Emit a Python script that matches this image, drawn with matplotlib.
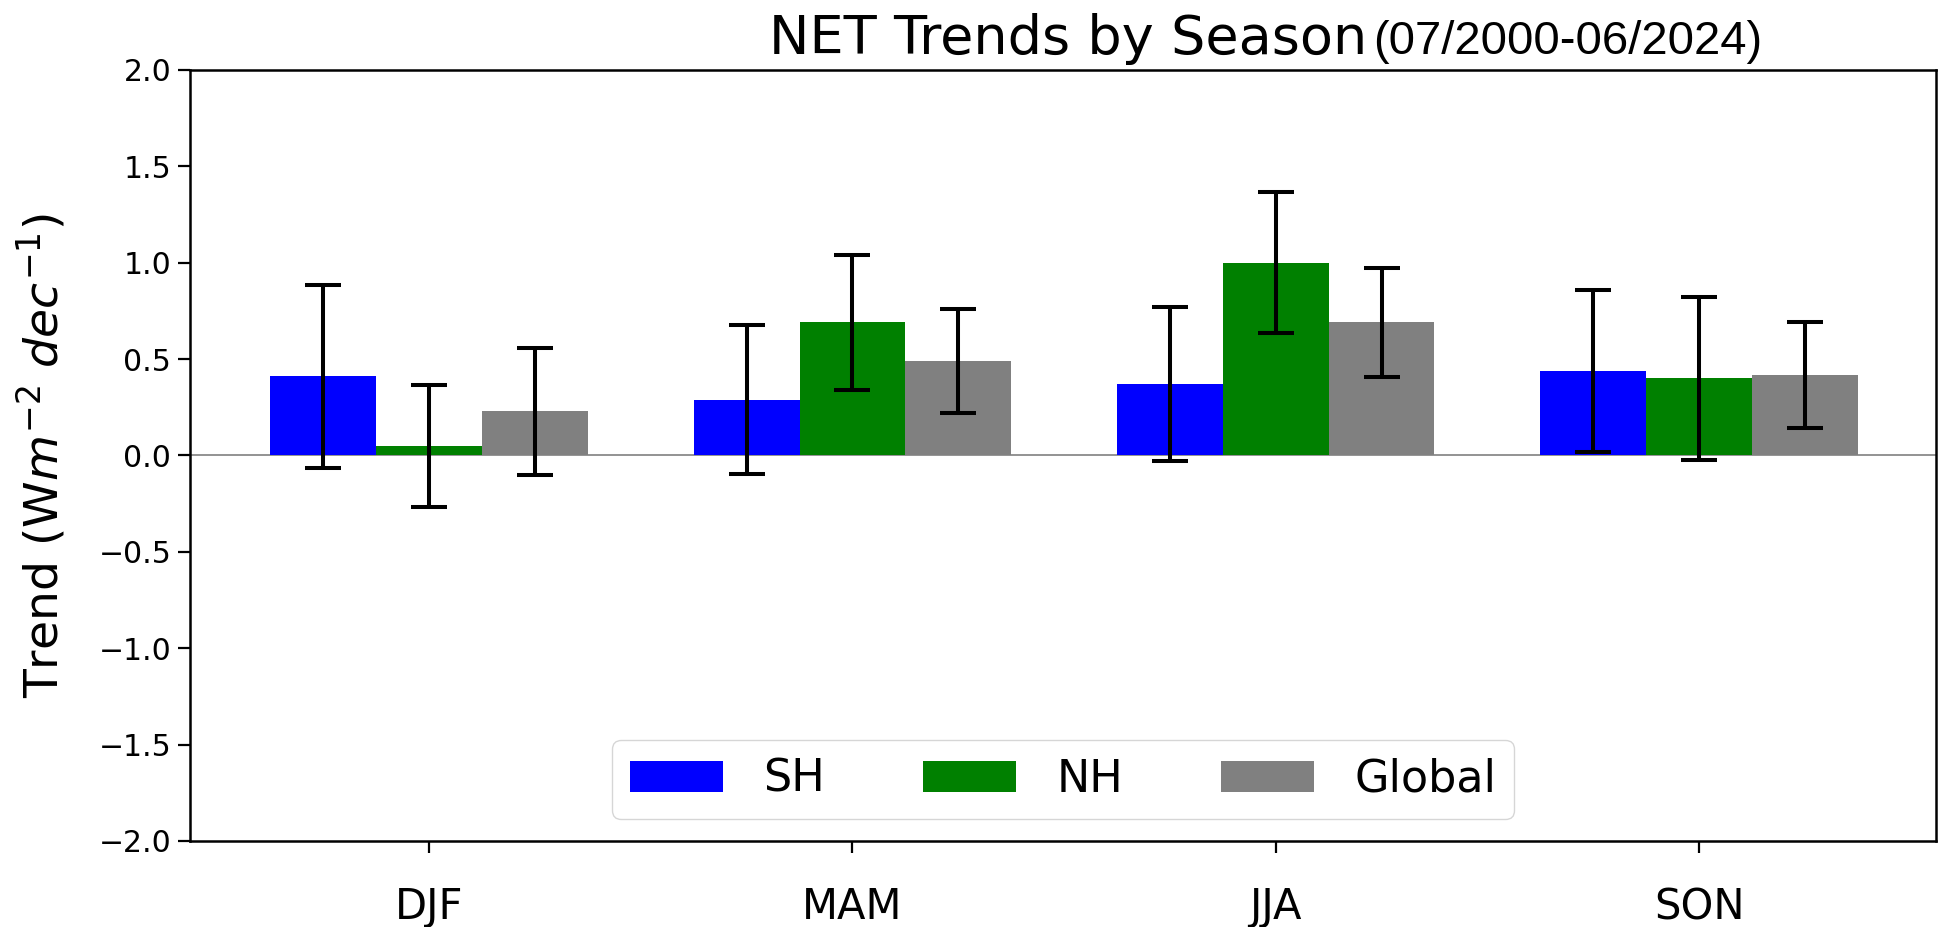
import matplotlib
matplotlib.use("Agg")
import matplotlib.pyplot as plt
import numpy as np

# seasonal NET trends and their uncertainty (W m-2 per decade)
seasons = ["DJF", "MAM", "JJA", "SON"]
sh = [0.41, 0.29, 0.37, 0.44]
nh = [0.05, 0.69, 1.00, 0.40]
glob = [0.23, 0.49, 0.69, 0.42]
sh_err = [0.475, 0.387, 0.40, 0.42]
nh_err = [0.318, 0.35, 0.365, 0.424]
glob_err = [0.33, 0.27, 0.282, 0.275]

fig = plt.figure(figsize=(19.39, 9.27), dpi=100)
ax = fig.add_axes([0.098, 0.0928, 0.9005, 0.8317])

x = np.arange(len(seasons))
w = 0.25
err_kw = dict(elinewidth=2.9, capsize=13, capthick=2.9, ecolor="black")

ax.bar(x - w, sh, w, yerr=sh_err, color="blue", label="SH", error_kw=err_kw)
ax.bar(x, nh, w, yerr=nh_err, color="green", label="NH", error_kw=err_kw)
ax.bar(x + w, glob, w, yerr=glob_err, color="gray", label="Global", error_kw=err_kw)

ax.axhline(0, color="gray", linewidth=1.2, zorder=0.5)

ax.set_xlim(-0.565, 3.56)
ax.set_ylim(-2.0, 2.0)
ax.set_yticks(np.arange(-2.0, 2.01, 0.5))
ax.set_xticks(x)
ax.set_xticklabels(seasons, fontsize=30)
ax.tick_params(axis="y", labelsize=21.5, length=8.5, width=1.6, pad=5)
ax.tick_params(axis="x", length=8.5, width=1.6, pad=24)
for s in ax.spines.values():
    s.set_linewidth(1.8)

ax.set_ylabel(r"Trend (W$m^{-2}$ $dec^{-1}$)", fontsize=34, labelpad=22)

fig.text(0.3965, 0.958, "NET Trends by Season", fontsize=39, ha="left", va="center")
fig.text(0.708, 0.955, "(07/2000-06/2024)", fontsize=34, ha="left", va="center",
         family="Liberation Sans")

ax.legend(loc="lower center", ncol=3, fontsize=32, handlelength=2.1,
          columnspacing=2.2, handletextpad=0.9)

fig.savefig("out.png", dpi=100)
